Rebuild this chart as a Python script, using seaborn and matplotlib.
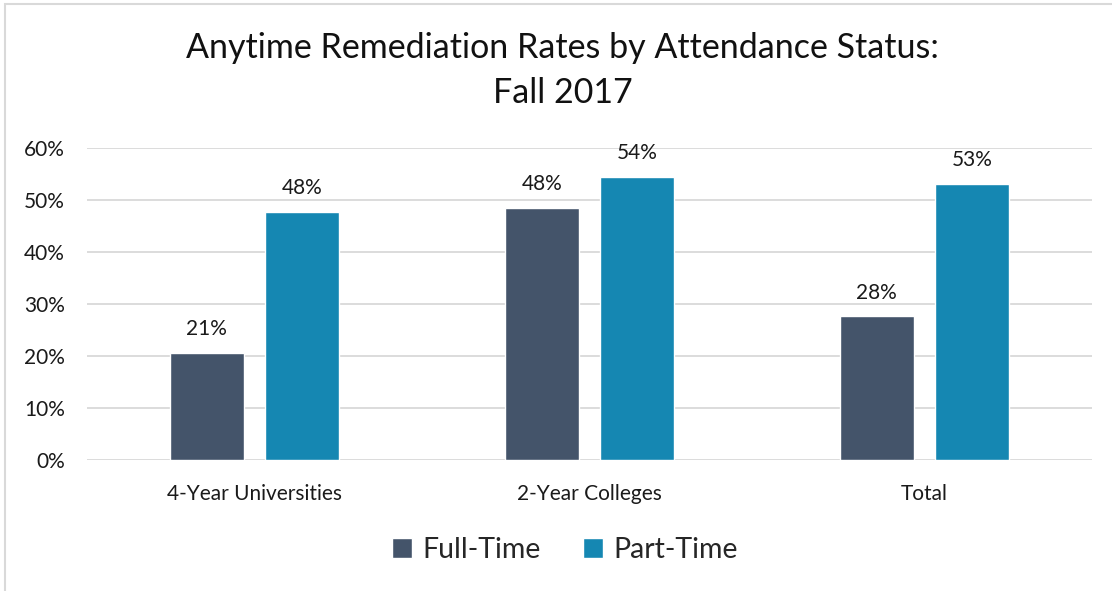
import numpy as np
import pandas as pd
import matplotlib
matplotlib.use("Agg")
import matplotlib.pyplot as plt
import matplotlib.ticker as mtick
from matplotlib.patches import Patch, Rectangle
import seaborn as sns

categories = ["4-Year Universities", "2-Year Colleges", "Total"]
full_time = [20.6, 48.4, 27.6]
part_time = [47.7, 54.5, 53.1]
full_labels = ["21%", "48%", "28%"]
part_labels = ["48%", "54%", "53%"]
series = ["Full-Time", "Part-Time"]
colors = ["#44546A", "#1587B2"]

df = pd.DataFrame({
    "category": categories * 2,
    "status": [series[0]] * 3 + [series[1]] * 3,
    "rate": full_time + part_time,
    "label": full_labels + part_labels,
})

sns.set_theme(style="white")
plt.rcParams["font.family"] = ["Lato", "DejaVu Sans"]

fig = plt.figure(figsize=(11.12, 5.91), dpi=100)
ax = fig.add_axes([87 / 1112, 1 - 460 / 591, 1005 / 1112, 312 / 591])

sns.barplot(data=df, x="category", y="rate", hue="status", order=categories,
            hue_order=series, palette=colors, width=0.57, gap=0.22,
            saturation=1, legend=False, ax=ax)

for container, labels in zip(ax.containers, [full_labels, part_labels]):
    ax.bar_label(container, labels=labels, padding=10, fontsize=15, color="#1a1a1a")

ax.set_ylim(0, 60)
ax.set_yticks(np.arange(0, 61, 10))
ax.yaxis.set_major_formatter(mtick.PercentFormatter(decimals=0))
ax.set_xlim(-0.5, 2.5)
ax.grid(axis="y", color="#D9D9D9", linewidth=1.3)
ax.set_axisbelow(True)
for s in ax.spines.values():
    s.set_visible(False)
ax.tick_params(axis="both", length=0, labelsize=15, colors="#1a1a1a")
ax.tick_params(axis="y", pad=16)
ax.tick_params(axis="x", pad=17)
ax.set_xlabel("")
ax.set_ylabel("")

fig.text(0.506, 0.88, "Anytime Remediation Rates by Attendance Status:\nFall 2017",
         ha="center", va="center", fontsize=24.5, linespacing=1.5, color="#111111")

handles = [Patch(facecolor=c, label=s) for c, s in zip(colors, series)]
fig.legend(handles=handles, loc="center", bbox_to_anchor=(0.508, 0.07), ncol=2,
           frameon=False, fontsize=20.5, handlelength=0.7, handleheight=0.7,
           columnspacing=1.5, handletextpad=0.35)

fig.patches.append(Rectangle((5 / 1112, -0.1), 1.2, 1.1 - 4 / 591, transform=fig.transFigure,
                             fill=False, edgecolor="#D9D9D9", linewidth=1.5))

fig.savefig("out.png", dpi=100)
